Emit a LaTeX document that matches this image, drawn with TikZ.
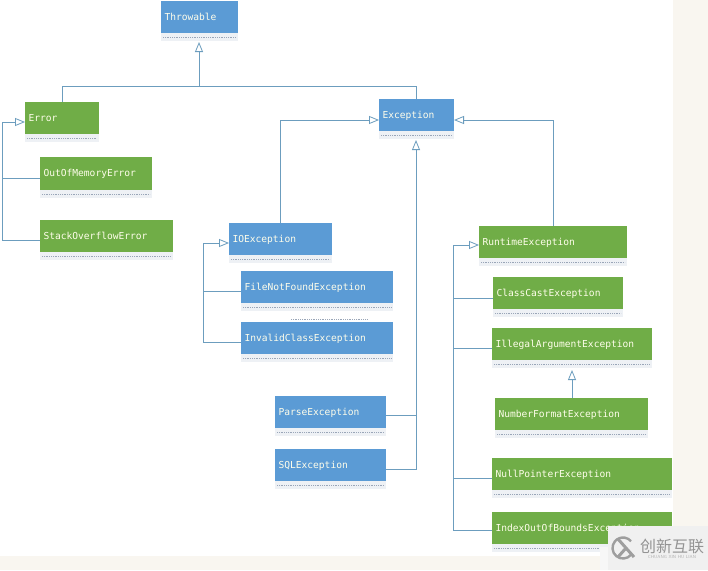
\documentclass[tikz,border=0pt]{standalone}
\usepackage{fontspec}
\setmonofont{DejaVu Sans Mono}
\newfontfamily\cjkwm{Noto Sans CJK SC}
\usetikzlibrary{arrows.meta,calc}
\definecolor{gbox}{HTML}{70AD47}
\definecolor{bbox}{HTML}{5B9BD5}
\definecolor{cream}{HTML}{F9F6F0}
\definecolor{wire}{HTML}{6C9DBE}
\definecolor{band}{HTML}{EEF1F5}
\definecolor{dots}{HTML}{9AA6B8}
\tikzset{
  cls/.style={anchor=north west,inner xsep=3.5pt,inner ysep=0pt,outer sep=0pt,
    font=\ttfamily\fontsize{9.6}{11}\selectfont,text=white!92!yellow,align=left,
    text height=8pt,text depth=2pt},
  conn/.style={draw=wire,line width=0.9pt},
  inh/.style={conn,-{Triangle[open,fill=white,length=10pt,width=8pt,line width=0.8pt]}},
}
% \clsbox{name}{x1}{y1}{x2}{y2}{colour}{text}
\newcommand{\clsbox}[7]{%
  \fill[band] (#2,#5) rectangle (#4,#5+8);
  \draw[dots,line width=0.8pt,densely dotted] (#2+2,#5+4.5) -- (#4-2,#5+4.5);
  \fill[#6] (#2,#3) rectangle (#4,#5);
  \node[cls,minimum height={(#5-#3)*1pt},text width={(#4-#2-7)*1pt}] (#1) at (#2,#3) {#7};
}
\begin{document}
\begin{tikzpicture}[x=1pt,y=-1pt]
\useasboundingbox (0,0) rectangle (708,570);
\fill[white] (0,0) rectangle (708,570);
\fill[cream] (673,0) rectangle (708,570);
\fill[cream] (0,556) rectangle (708,570);

\clsbox{throwable}{161}{1}{238}{33}{bbox}{Throwable}
\clsbox{error}{25}{102}{99}{134}{gbox}{Error}
\clsbox{oom}{40}{157}{152}{190}{gbox}{OutOfMemoryError}
\clsbox{sof}{40}{220}{173}{252}{gbox}{StackOverflowError}
\clsbox{exception}{379}{99}{454}{131}{bbox}{Exception}
\clsbox{io}{229}{223}{332}{255}{bbox}{IOException}
\clsbox{fnf}{241}{271}{393}{303}{bbox}{FileNotFoundException}
\draw[dots,line width=0.8pt,densely dotted] (291,319) -- (367,319);
\clsbox{invalid}{241}{322}{393}{354}{bbox}{InvalidClassException}
\clsbox{parse}{275}{396}{386}{428}{bbox}{ParseException}
\clsbox{sql}{275}{449}{386}{481}{bbox}{SQLException}
\clsbox{runtime}{479}{226}{627}{258}{gbox}{RuntimeException}
\clsbox{cce}{493}{277}{623}{309}{gbox}{ClassCastException}
\clsbox{iae}{492}{328}{652}{360}{gbox}{IllegalArgumentException}
\clsbox{nfe}{495}{398}{648}{430}{gbox}{NumberFormatException}
\clsbox{npe}{492}{458}{672}{490}{gbox}{NullPointerException}
\clsbox{ioobe}{492}{512}{672}{544}{gbox}{IndexOutOfBoundsException}

% bus coordinates
\coordinate (top) at (199,86);
\coordinate (errbus) at (2,122);
\coordinate (iobus) at (203,243);
\coordinate (rtbus) at (453,245);
\coordinate (exbus) at (416,120);
\coordinate (rtup) at (553,120);

% Throwable
\draw[conn] ($(error.north west)+(37,0)$) |- (top);
\draw[conn] ($(exception.north west)+(37,0)$) |- (top);
\draw[inh] (top) -- (top |- 0,42);
% Error family
\draw[inh] (errbus) -- (error.west |- errbus);
\draw[conn] (errbus) |- ($(sof.north west)+(0,20)$);
\draw[conn] ($(oom.north west)+(0,21)$) -- ++(-38,0);
% Exception family
\draw[inh] ($(io.north west)+(51,0)$) |- (exception.west |- exbus);
\draw[inh] ($(runtime.north west)+(74,0)$) |- (exception.east |- exbus);
\draw[inh] ($(sql.north east)+(0,20)$) -| (exbus |- 0,140);
\draw[conn] ($(parse.north east)+(0,19)$) -- ++(30,0);
% IOException family
\draw[inh] (iobus) -- (io.west |- iobus);
\draw[conn] (iobus) |- ($(invalid.north west)+(0,20)$);
\draw[conn] ($(fnf.north west)+(0,20)$) -- ++(-38,0);
% RuntimeException family
\draw[inh] (rtbus) -- (runtime.west |- rtbus);
\draw[conn] (rtbus) |- ($(ioobe.north west)+(0,18)$);
\draw[conn] ($(cce.north west)+(0,21)$) -- ++(-40,0);
\draw[conn] ($(iae.north west)+(0,20)$) -- ++(-39,0);
\draw[conn] ($(npe.north west)+(0,20)$) -- ++(-39,0);
\draw[inh] ($(nfe.north west)+(77,0)$) -- ++(0,-28);

% watermark
\fill[black!3] (600,547) rectangle (708,570);
\fill[black!6] (608,526) rectangle (708,570);
\draw[black!38,line width=2.4pt] (623,548) ++(40:10.5) arc (40:320:10.5);
\draw[black!38,line width=3pt] (618,539) -- (634,557) (618,557) -- (626,548);
\node[inner sep=0pt,text=black!42,font=\cjkwm\fontsize{16}{17}\selectfont] (wm) at (672,546) {创新互联};
\node[inner sep=0pt,text=black!30,font=\sffamily\fontsize{4.4}{5}\selectfont] (wm2) at (672,557) {CHUANG XIN HU LIAN};
\end{tikzpicture}
\end{document}
